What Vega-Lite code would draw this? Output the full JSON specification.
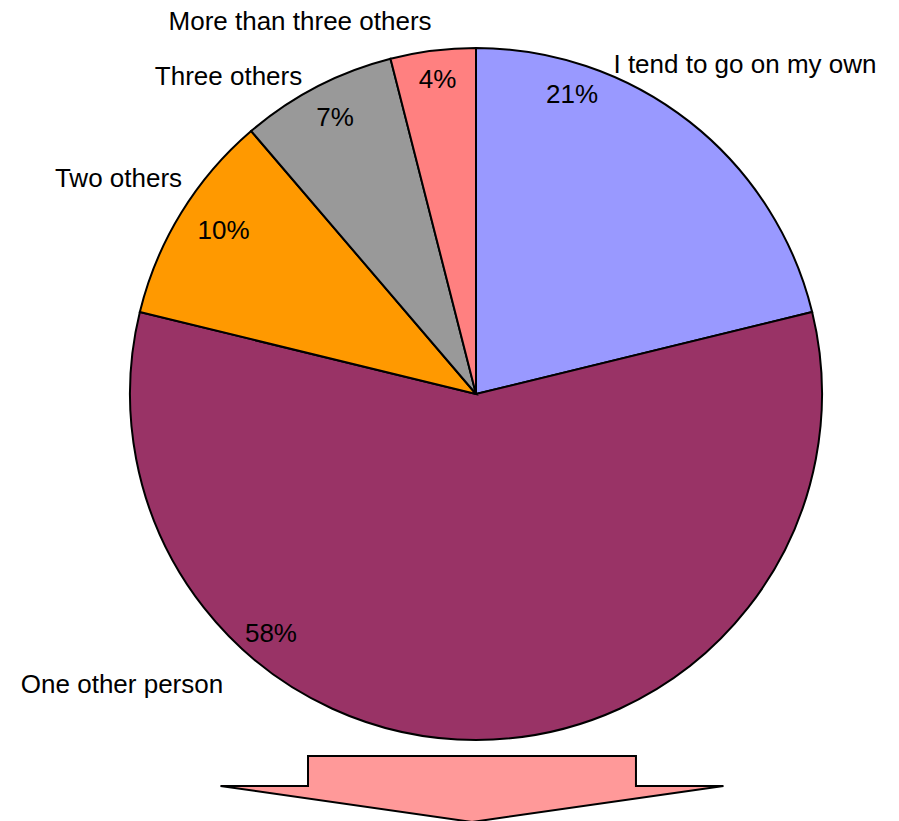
{
  "$schema": "https://vega.github.io/schema/vega-lite/v6.json",
  "width": 692,
  "height": 692,
  "autosize": {"type": "none"},
  "padding": {"left": 130, "top": 48, "right": 77, "bottom": 81},
  "background": "white",
  "config": {"view": {"stroke": null}, "text": {"font": "Liberation Sans"}},
  "datasets": {
    "slices": [
      {"category": "I tend to go on my own", "count": 32, "pct": "21%", "order": 1},
      {"category": "One other person", "count": 87, "pct": "58%", "order": 2},
      {"category": "Two others", "count": 15, "pct": "10%", "order": 3},
      {"category": "Three others", "count": 11, "pct": "7%", "order": 4},
      {"category": "More than three others", "count": 6, "pct": "4%", "order": 5}
    ],
    "arrow": [{"item": "arrow"}]
  },
  "layer": [
    {
      "data": {"name": "slices"},
      "encoding": {
        "theta": {"field": "count", "type": "quantitative", "stack": true},
        "order": {"field": "order", "type": "quantitative"}
      },
      "layer": [
        {
          "mark": {"type": "arc", "stroke": "black", "strokeWidth": 2},
          "encoding": {
            "color": {
              "field": "category",
              "type": "nominal",
              "scale": {
                "domain": ["I tend to go on my own", "One other person", "Two others", "Three others", "More than three others"],
                "range": ["#9999FF", "#993366", "#FF9900", "#999999", "#FF8080"]
              },
              "legend": null
            }
          }
        },
        {
          "mark": {"type": "text", "radius": 306.4, "thetaOffset": -0.3471, "fontSize": 26, "font": "Liberation Sans", "baseline": "alphabetic", "align": "center", "color": "black"},
          "encoding": {"text": {"condition": {"test": "datum.category === 'I tend to go on my own'", "field": "pct", "type": "nominal"}, "value": ""}}
        },
        {
          "mark": {"type": "text", "radius": 321.8, "thetaOffset": 0.6908, "fontSize": 26, "font": "Liberation Sans", "baseline": "alphabetic", "align": "center", "color": "black"},
          "encoding": {"text": {"condition": {"test": "datum.category === 'One other person'", "field": "pct", "type": "nominal"}, "value": ""}}
        },
        {
          "mark": {"type": "text", "radius": 296.3, "thetaOffset": 0, "fontSize": 26, "font": "Liberation Sans", "baseline": "alphabetic", "align": "center", "color": "black"},
          "encoding": {"text": {"condition": {"test": "datum.category === 'Two others'", "field": "pct", "type": "nominal"}, "value": ""}}
        },
        {
          "mark": {"type": "text", "radius": 302.8, "thetaOffset": -0.0058, "fontSize": 26, "font": "Liberation Sans", "baseline": "alphabetic", "align": "center", "color": "black"},
          "encoding": {"text": {"condition": {"test": "datum.category === 'Three others'", "field": "pct", "type": "nominal"}, "value": ""}}
        },
        {
          "mark": {"type": "text", "radius": 308.4, "thetaOffset": 0, "fontSize": 26, "font": "Liberation Sans", "baseline": "alphabetic", "align": "center", "color": "black"},
          "encoding": {"text": {"condition": {"test": "datum.category === 'More than three others'", "field": "pct", "type": "nominal"}, "value": ""}}
        },
        {
          "mark": {"type": "text", "radius": 418.8, "thetaOffset": 0.0316, "fontSize": 26, "font": "Liberation Sans", "baseline": "alphabetic", "align": "center", "color": "black"},
          "encoding": {"text": {"condition": {"test": "datum.category === 'I tend to go on my own'", "field": "category", "type": "nominal"}, "value": ""}}
        },
        {
          "mark": {"type": "text", "radius": 463.4, "thetaOffset": 0.8693, "fontSize": 26, "font": "Liberation Sans", "baseline": "alphabetic", "align": "center", "color": "black"},
          "encoding": {"text": {"condition": {"test": "datum.category === 'One other person'", "field": "category", "type": "nominal"}, "value": ""}}
        },
        {
          "mark": {"type": "text", "radius": 413.1, "thetaOffset": -0.0265, "fontSize": 26, "font": "Liberation Sans", "baseline": "alphabetic", "align": "center", "color": "black"},
          "encoding": {"text": {"condition": {"test": "datum.category === 'Two others'", "field": "category", "type": "nominal"}, "value": ""}}
        },
        {
          "mark": {"type": "text", "radius": 395.9, "thetaOffset": -0.1967, "fontSize": 26, "font": "Liberation Sans", "baseline": "alphabetic", "align": "center", "color": "black"},
          "encoding": {"text": {"condition": {"test": "datum.category === 'Three others'", "field": "category", "type": "nominal"}, "value": ""}}
        },
        {
          "mark": {"type": "text", "radius": 404.3, "thetaOffset": -0.3255, "fontSize": 26, "font": "Liberation Sans", "baseline": "alphabetic", "align": "center", "color": "black"},
          "encoding": {"text": {"condition": {"test": "datum.category === 'More than three others'", "field": "category", "type": "nominal"}, "value": ""}}
        }
      ]
    },
    {
      "data": {"name": "arrow"},
      "mark": {
        "type": "point",
        "shape": "M-0.652,0 L-0.652,-0.1193 L0.652,-0.1193 L0.652,0 L1,0 L0,0.1431 L-1,0 Z",
        "size": 253009,
        "filled": true,
        "fill": "#FF9999",
        "stroke": "black",
        "strokeWidth": 2,
        "opacity": 1,
        "fillOpacity": 1
      },
      "encoding": {
        "x": {"datum": -0.0116, "type": "quantitative", "scale": {"domain": [-1, 1], "nice": false, "zero": false}, "axis": null},
        "y": {"datum": -1.1329, "type": "quantitative", "scale": {"domain": [-1, 1], "nice": false, "zero": false}, "axis": null}
      }
    }
  ]
}
